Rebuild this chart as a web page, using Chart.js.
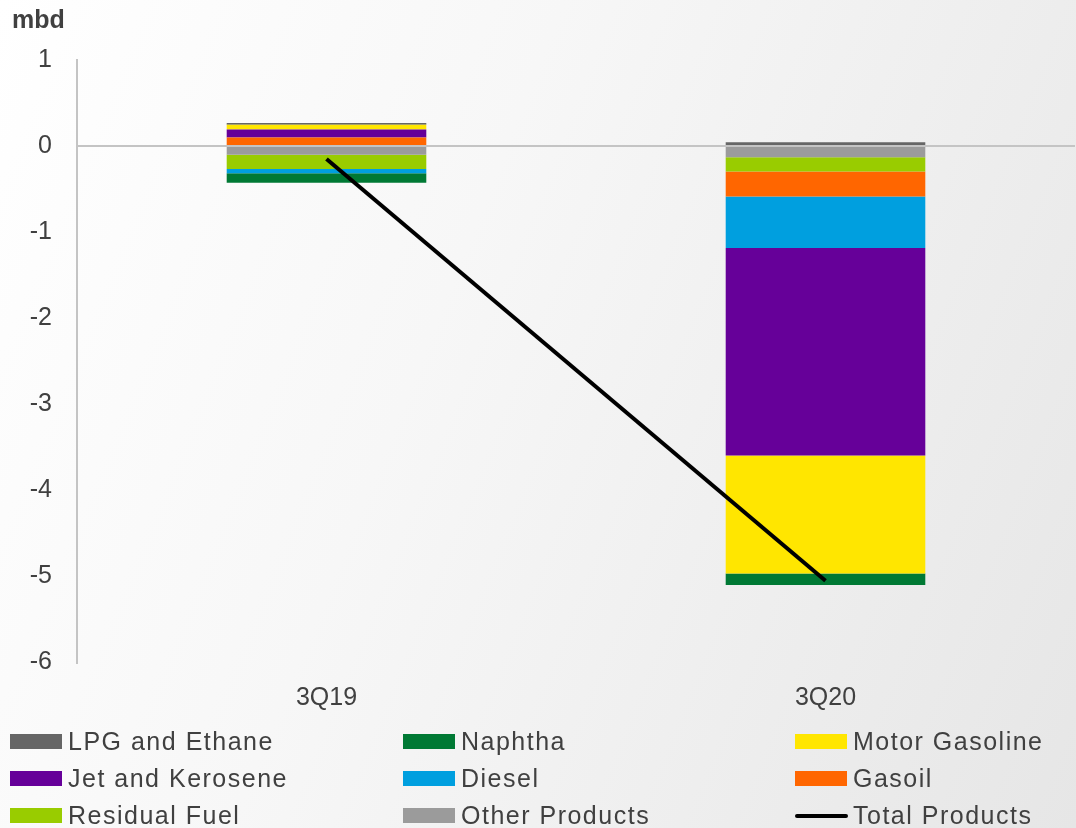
<!DOCTYPE html>
<html>
<head>
<meta charset="utf-8">
<script src="https://cdn.jsdelivr.net/npm/chart.js@4/dist/chart.umd.min.js"></script>
<style>
  html, body { margin: 0; padding: 0; }
  #wrap {
    position: relative; width: 1076px; height: 828px; overflow: hidden;
    background: linear-gradient(112deg, #ffffff 0%, #f7f7f7 40%, #e6e6e6 100%);
    font-family: "Liberation Sans", Arial, sans-serif;
  }
  canvas { position: absolute; left: 0; top: 0; }
  #legend { position: absolute; left: 0; top: 723px; width: 1076px; }
  .item { position: absolute; height: 37px; display: flex; align-items: center; color: #404040; font-size: 25px; letter-spacing: 1.5px; white-space: nowrap; }
  .box { width: 52px; height: 15px; margin-right: 6px; }
  .line { width: 53px; height: 4px; margin-right: 5px; border-radius: 2px; }
</style>
</head>
<body>
<div id="wrap">
  <canvas id="c" width="1076" height="828"></canvas>
  <div id="legend"></div>
</div>
<script>
const categories = ['3Q19', '3Q20'];
const otherProducts = [-0.10, -0.13];
const residualFuel = [-0.167, -0.165];
const gasoil = [0.10, -0.29];
const diesel = [-0.05, -0.60];
const jetKerosene = [0.093, -2.41];
const motorGasoline = [0.055, -1.37];
const naphtha = [-0.11, -0.135];
const lpgEthane = [0.02, 0.045];
const totalProducts = [-0.15, -5.05];
const yTicks = [1, 0, -1, -2, -3, -4, -5, -6];

const barSets = [
  { label: 'Other Products', data: otherProducts, color: '#9b9b9b' },
  { label: 'Residual Fuel', data: residualFuel, color: '#99cc00' },
  { label: 'Gasoil', data: gasoil, color: '#ff6600' },
  { label: 'Diesel', data: diesel, color: '#009fdf' },
  { label: 'Jet and Kerosene', data: jetKerosene, color: '#660099' },
  { label: 'Motor Gasoline', data: motorGasoline, color: '#ffe600' },
  { label: 'Naphtha', data: naphtha, color: '#007934' },
  { label: 'LPG and Ethane', data: lpgEthane, color: '#666666' }
];

const datasets = barSets.map(s => ({
  type: 'bar', label: s.label, data: s.data, backgroundColor: s.color,
  borderWidth: 0, barPercentage: 0.4, categoryPercentage: 1.0, stack: 'p'
}));
datasets.push({
  type: 'line', label: 'Total Products', data: totalProducts, borderColor: '#000000',
  backgroundColor: '#000000', borderWidth: 4, pointRadius: 0, tension: 0, order: -1, stack: 'total'
});

const FONT = '"Liberation Sans", Arial, sans-serif';
const chart = new Chart(document.getElementById('c'), {
  data: { labels: categories, datasets },
  options: {
    responsive: false, animation: false,
    layout: { padding: { left: 12, right: 1, top: 0, bottom: 93.5 } },
    plugins: {
      legend: { display: false },
      tooltip: { enabled: false },
      title: {
        display: true, text: 'mbd', align: 'start', color: '#404040',
        font: { family: FONT, size: 25, weight: 'bold', lineHeight: 1.2 },
        padding: { top: 6, bottom: 24 }
      }
    },
    scales: {
      x: {
        stacked: true,
        grid: { display: false, drawTicks: false },
        border: { display: false },
        ticks: { color: '#404040', padding: 21, font: { family: FONT, size: 25 } }
      },
      y: {
        stacked: true, min: -6, max: 1,
        afterFit: s => { s.width = 65; },
        afterBuildTicks: s => { s.ticks = yTicks.map(v => ({ value: v })); },
        border: { display: true, color: '#c4c4c4', width: 2 },
        grid: {
          drawTicks: false,
          color: ctx => (ctx.tick && ctx.tick.value === 0) ? '#c4c4c4' : 'rgba(0,0,0,0)',
          lineWidth: 2
        },
        ticks: { color: '#404040', padding: 25, font: { family: FONT, size: 25 } }
      }
    }
  }
});

// HTML legend built from chart datasets (grid layout as in the reference)
const legendOrder = ['LPG and Ethane', 'Naphtha', 'Motor Gasoline', 'Jet and Kerosene', 'Diesel', 'Gasoil', 'Residual Fuel', 'Other Products', 'Total Products'];
const colX = [10, 403, 795];
const legendEl = document.getElementById('legend');
legendOrder.forEach((name, i) => {
  const ds = chart.data.datasets.find(d => d.label === name);
  const div = document.createElement('div');
  div.className = 'item';
  div.style.left = colX[i % 3] + 'px';
  div.style.top = (Math.floor(i / 3) * 37) + 'px';
  const mark = document.createElement('span');
  if (ds.type === 'line') { mark.className = 'line'; mark.style.background = ds.borderColor; }
  else { mark.className = 'box'; mark.style.background = ds.backgroundColor; }
  div.appendChild(mark);
  div.appendChild(document.createTextNode(name));
  legendEl.appendChild(div);
});
</script>
</body>
</html>
